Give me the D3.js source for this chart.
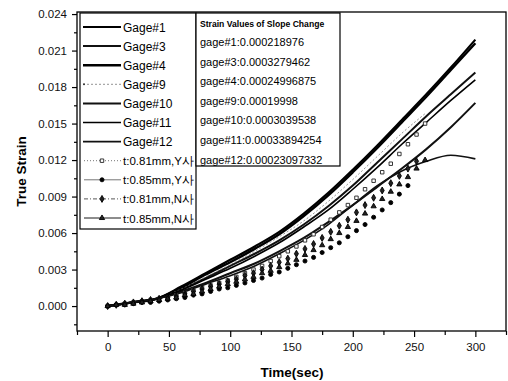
<!DOCTYPE html>
<html lang="en">
<head>
<meta charset="UTF-8">
<title>True Strain vs Time</title>
<script src="https://d3js.org/d3.v7.min.js"></script>
<style>
    body { margin: 0; background: #fff; }
    svg { display: block; font-family: "Liberation Sans", Arial, sans-serif; }
</style>
</head>
<body>
<script>
    // gage lines, sampled every 20 s
    var gageTime = [0, 20, 40, 60, 80, 100, 120, 140, 160, 180, 200, 220, 240, 260, 280, 300];
    var gage1  = [0, 0.0003, 0.0006, 0.0016, 0.0027, 0.0038, 0.0049, 0.0061, 0.0076, 0.0093, 0.0112, 0.0132, 0.0153, 0.0174, 0.0196, 0.0219];
    var gage4  = [0, 0.0003, 0.0006, 0.0015, 0.0026, 0.0036, 0.0047, 0.0059, 0.0074, 0.0091, 0.0110, 0.0130, 0.0151, 0.0172, 0.0194, 0.0216];
    var gage3  = [0, 0.0003, 0.0006, 0.0014, 0.0023, 0.0033, 0.0043, 0.0054, 0.0067, 0.0082, 0.0099, 0.0118, 0.0137, 0.0156, 0.0174, 0.0192];
    var gage11 = [0, 0.0003, 0.0006, 0.0013, 0.0022, 0.0031, 0.0041, 0.0052, 0.0065, 0.0079, 0.0096, 0.0114, 0.0133, 0.0151, 0.0169, 0.0186];
    var gage10 = [0, 0.0003, 0.0006, 0.0012, 0.0019, 0.0027, 0.0035, 0.0045, 0.0056, 0.0069, 0.0083, 0.0098, 0.0113, 0.0129, 0.0147, 0.0167];
    var gage12 = [0, 0.0003, 0.0006, 0.0011, 0.0018, 0.0025, 0.0033, 0.0043, 0.0054, 0.0067, 0.0083, 0.0099, 0.0111, 0.0119, 0.0124, 0.0121];
    var gage9  = [0, 0.0003, 0.0006, 0.0014, 0.0024, 0.0034, 0.0045, 0.0057, 0.0070, 0.0086, 0.0104, 0.0123, 0.0142, 0.0159];

    // specimen measurements, sampled every 7 s
    var specTime = [0, 7, 14, 21, 28, 35, 42, 49, 56, 63, 70, 77, 84, 91, 98, 105, 112, 119, 126, 133,
                    140, 147, 154, 161, 168, 175, 182, 189, 196, 203, 210, 217, 224, 231, 238, 245, 252, 259];
    var y081 = [0, 0.0001, 0.0002, 0.0003, 0.0004, 0.0005, 0.0006, 0.0007, 0.0009, 0.0011, 0.0013, 0.0015, 0.0017, 0.0019,
                0.0021, 0.0024, 0.0027, 0.0030, 0.0033, 0.0037, 0.0041, 0.0045, 0.0049, 0.0054, 0.0059, 0.0065, 0.0071,
                0.0077, 0.0083, 0.0089, 0.0096, 0.0103, 0.0110, 0.0117, 0.0125, 0.0133, 0.0141, 0.0150];
    var y085 = [0, 0.0001, 0.0001, 0.0002, 0.0003, 0.0003, 0.0004, 0.0005, 0.0006, 0.0007, 0.0009, 0.0010, 0.0012, 0.0014,
                0.0015, 0.0017, 0.0019, 0.0021, 0.0023, 0.0026, 0.0028, 0.0031, 0.0034, 0.0037, 0.0040, 0.0044, 0.0048,
                0.0052, 0.0057, 0.0062, 0.0067, 0.0073, 0.0079, 0.0085, 0.0092, 0.0099];
    var n081 = [0, 0.0001, 0.0002, 0.0003, 0.0004, 0.0005, 0.0006, 0.0007, 0.0008, 0.0010, 0.0012, 0.0014, 0.0016, 0.0018,
                0.0020, 0.0022, 0.0025, 0.0027, 0.0030, 0.0033, 0.0036, 0.0039, 0.0043, 0.0047, 0.0051, 0.0056, 0.0061,
                0.0066, 0.0071, 0.0077, 0.0083, 0.0089, 0.0095, 0.0101, 0.0107, 0.0113, 0.0119];
    var n085 = [0, 0.0001, 0.0001, 0.0002, 0.0003, 0.0004, 0.0005, 0.0006, 0.0007, 0.0009, 0.0010, 0.0012, 0.0014, 0.0016,
                0.0018, 0.0020, 0.0022, 0.0024, 0.0027, 0.0029, 0.0032, 0.0035, 0.0038, 0.0042, 0.0046, 0.0050, 0.0055,
                0.0060, 0.0065, 0.0070, 0.0076, 0.0082, 0.0088, 0.0094, 0.0100, 0.0106, 0.0113, 0.0120];

    var gageNames = ["Gage#1", "Gage#3", "Gage#4", "Gage#9", "Gage#10", "Gage#11", "Gage#12"];
    var specNames = ["t:0.81mm,Y사", "t:0.85mm,Y사", "t:0.81mm,N사", "t:0.85mm,N사"];
    var slopeTitle = "Strain Values of Slope Change";
    var slopeLabels = ["gage#1:0.000218976", "gage#3:0.0003279462", "gage#4:0.00024996875", "gage#9:0.00019998",
                       "gage#10:0.0003039538", "gage#11:0.00033894254", "gage#12:0.00023097332"];
    var xTicks = [0, 50, 100, 150, 200, 250, 300];
    var yTicks = [0, 0.003, 0.006, 0.009, 0.012, 0.015, 0.018, 0.021, 0.024];

    var w = 508, h = 381;
    var plotL = 77, plotR = 506, plotT = 12, plotB = 331;

    var svg = d3.select("body").append("svg")
        .attr("width", w)
        .attr("height", h);

    var x = d3.scaleLinear().domain([-25, 325]).range([plotL, plotR]);
    var y = d3.scaleLinear().domain([-0.00205, 0.02417]).range([plotB, plotT]);

    // minor ticks
    svg.append("g")
        .attr("transform", "translate(0," + plotB + ")")
        .call(d3.axisBottom(x).tickValues(d3.range(-25, 326, 50)).tickSize(4).tickFormat(""));
    svg.append("g")
        .attr("transform", "translate(" + plotL + ",0)")
        .call(d3.axisLeft(y).tickValues(d3.range(-0.0015, 0.0241, 0.003)).tickSize(3).tickFormat(""));

    // major ticks
    svg.append("g")
        .attr("transform", "translate(0," + plotB + ")")
        .call(d3.axisBottom(x).tickValues(xTicks).tickSize(6).tickPadding(6).tickFormat(d3.format("d")));
    svg.append("g")
        .attr("transform", "translate(" + plotL + ",0)")
        .call(d3.axisLeft(y).tickValues(yTicks).tickSize(5).tickPadding(5).tickFormat(d3.format(".3f")));

    svg.selectAll(".tick line").attr("stroke", "#000").attr("stroke-width", 1.2);
    svg.selectAll(".domain").remove();
    svg.selectAll(".tick text").attr("font-size", 11.5).attr("fill", "#111")
        .style("font-family", "'Liberation Sans', Arial, sans-serif");

    // frame
    svg.append("rect")
        .attr("x", plotL).attr("y", plotT)
        .attr("width", plotR - plotL).attr("height", plotB - plotT)
        .attr("fill", "none").attr("stroke", "#000").attr("stroke-width", 1.3);

    // axis titles
    svg.append("text")
        .attr("x", 292).attr("y", 377)
        .attr("text-anchor", "middle")
        .attr("font-size", 13.5).attr("font-weight", "bold")
        .text("Time(sec)");
    svg.append("text")
        .attr("transform", "translate(26," + ((plotT + plotB) / 2) + ") rotate(-90)")
        .attr("text-anchor", "middle")
        .attr("font-size", 13.5).attr("font-weight", "bold")
        .text("True Strain");

    // gage lines
    var gageSeries = [
        { vals: gage1,  width: 2.2, dash: null, color: "#000" },
        { vals: gage3,  width: 2.0, dash: null, color: "#111" },
        { vals: gage4,  width: 2.4, dash: null, color: "#000" },
        { vals: gage9,  width: 0.8, dash: "2,2", color: "#777" },
        { vals: gage10, width: 2.0, dash: null, color: "#111" },
        { vals: gage11, width: 1.6, dash: null, color: "#000" },
        { vals: gage12, width: 1.6, dash: null, color: "#111" }
    ];

    var line = d3.line()
        .x(function(d){ return x(d[0]); })
        .y(function(d){ return y(d[1]); })
        .curve(d3.curveMonotoneX);

    gageSeries.forEach(function(s){
        var pts = s.vals.map(function(v, i){ return [gageTime[i], v]; });
        svg.append("path")
            .attr("d", line(pts))
            .attr("fill", "none")
            .attr("stroke", s.color)
            .attr("stroke-width", s.width)
            .attr("stroke-dasharray", s.dash);
    });

    // specimen markers
    var symSquare = d3.symbol().type(d3.symbolSquare).size(12);
    var symCircle = d3.symbol().type(d3.symbolCircle).size(13);
    var symDiamond = d3.symbol().type(d3.symbolDiamond).size(14);
    var symTriangle = d3.symbol().type(d3.symbolTriangle).size(12);

    var specSeries = [
        { vals: y081, sym: symSquare,   fill: "#fff", stroke: "#222", dash: "1,2",     lc: "#666" },
        { vals: y085, sym: symCircle,   fill: "#000", stroke: "#000", dash: null,      lc: "#666" },
        { vals: n081, sym: symDiamond,  fill: "#222", stroke: "#000", dash: "4,2,1,2", lc: "#444" },
        { vals: n085, sym: symTriangle, fill: "#222", stroke: "#000", dash: null,      lc: "#000" }
    ];

    specSeries.forEach(function(s){
        svg.append("g").selectAll("path")
            .data(s.vals)
            .enter()
            .append("path")
            .attr("d", s.sym)
            .attr("transform", function(d, i){
                return "translate(" + x(specTime[i]) + "," + y(d) + ")";
            })
            .attr("fill", s.fill)
            .attr("stroke", s.stroke)
            .attr("stroke-width", 0.9);
    });

    // legend 1
    var lg = svg.append("g");
    lg.append("rect")
        .attr("x", 80).attr("y", 13).attr("width", 116).attr("height", 216)
        .attr("fill", "#fff").attr("stroke", "#000").attr("stroke-width", 1.2);

    var rowY = function(i){ return 27 + i * 19.1; };

    gageSeries.forEach(function(s, i){
        lg.append("line")
            .attr("x1", 83).attr("x2", 121)
            .attr("y1", rowY(i)).attr("y2", rowY(i))
            .attr("stroke", s.color)
            .attr("stroke-width", s.width)
            .attr("stroke-dasharray", s.dash);
        lg.append("text")
            .attr("x", 123).attr("y", rowY(i) + 4.5)
            .attr("font-size", 12)
            .text(gageNames[i]);
    });
    lg.append("circle").attr("cx", 84).attr("cy", rowY(3)).attr("r", 1).attr("fill", "#333");

    specSeries.forEach(function(s, j){
        var yy = rowY(gageNames.length + j);
        lg.append("line")
            .attr("x1", 84).attr("x2", 121)
            .attr("y1", yy).attr("y2", yy)
            .attr("stroke", s.lc).attr("stroke-width", 0.9)
            .attr("stroke-dasharray", s.dash);
        lg.append("path")
            .attr("d", s.sym)
            .attr("transform", "translate(102," + yy + ")")
            .attr("fill", s.fill).attr("stroke", s.stroke).attr("stroke-width", 0.9);
        lg.append("text")
            .attr("x", 123).attr("y", yy + 4.5)
            .attr("font-size", 11.5)
            .attr("textLength", 71)
            .attr("lengthAdjust", "spacingAndGlyphs")
            .text(specNames[j]);
    });

    // legend 2
    var lg2 = svg.append("g");
    lg2.append("rect")
        .attr("x", 196).attr("y", 13).attr("width", 144).attr("height", 153)
        .attr("fill", "#fff").attr("stroke", "#000").attr("stroke-width", 1.2);
    lg2.append("text")
        .attr("x", 200).attr("y", 27)
        .attr("font-size", 8.6).attr("font-weight", "bold")
        .text(slopeTitle);
    lg2.selectAll("text.slope")
        .data(slopeLabels)
        .enter()
        .append("text")
        .attr("class", "slope")
        .attr("x", 200)
        .attr("y", function(d, i){ return 46 + i * 19.6; })
        .attr("font-size", 11)
        .text(function(d){ return d; });
</script>
</body>
</html>
